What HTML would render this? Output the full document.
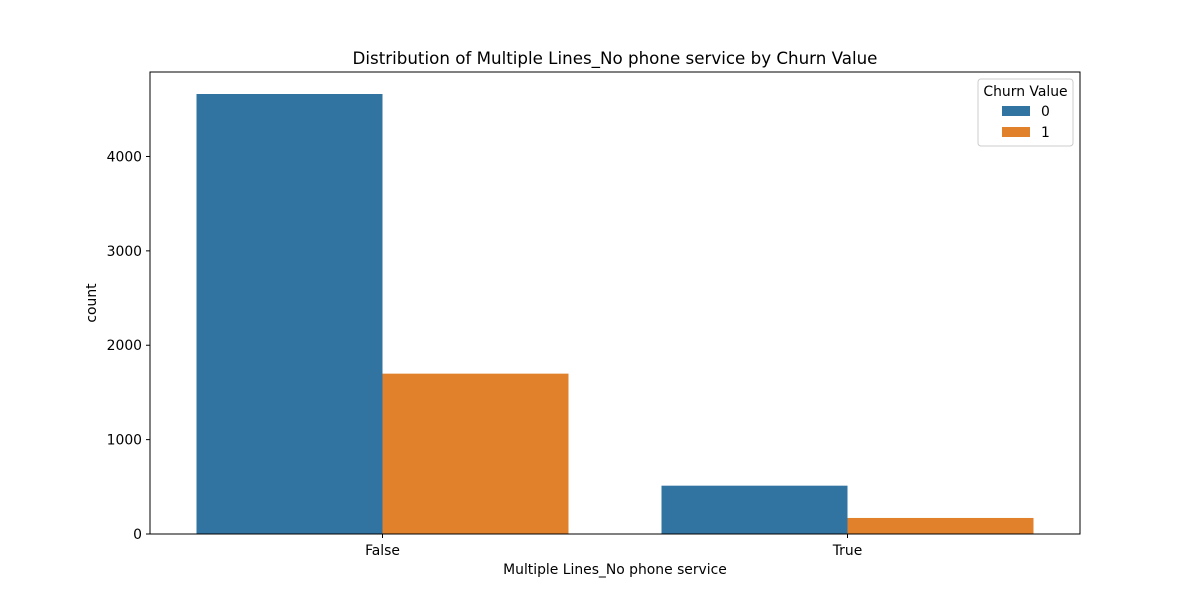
<!DOCTYPE html>
<html><head><meta charset="utf-8"><style>
body{margin:0;background:#fff;}
text{font-family:"DejaVu Sans","Liberation Sans",sans-serif;fill:#000;}
</style></head><body>
<svg id="chart" width="1200" height="600" xmlns="http://www.w3.org/2000/svg"></svg>
<script>
const categories = ["False", "True"];
const seriesNames = ["0", "1"];
const series0 = [4662, 512];
const series1 = [1699, 170];
const yTicks = [0, 1000, 2000, 3000, 4000];
const colors = ["#3274a1", "#e1812c"];

const svg = document.getElementById('chart');
const NS = 'http://www.w3.org/2000/svg';
const L = 150, R = 1080, T = 72, B = 534;
const yMax = Math.max(...series0, ...series1) * 1.05;
const y = v => B - v / yMax * (B - T);
const step = (R - L) / categories.length;
const x = i => L + step * (i + 0.5);
function mk(tag, attrs, parent) { const e = document.createElementNS(NS, tag); for (const k in attrs) e.setAttribute(k, attrs[k]); (parent || svg).appendChild(e); return e; }

const allSeries = [series0, series1];
const bw = step * 0.8 / 2;
allSeries.forEach((s, si) => {
  s.forEach((v, ci) => {
    const r = mk('rect', { x: x(ci) - step * 0.4 + si * bw, y: y(v), width: bw, height: B - y(v), fill: colors[si] });
    
    
  });
});

const frame = mk('rect', { x: L, y: T, width: R - L, height: B - T, fill: 'none', stroke: '#000', 'stroke-width': 1 });



yTicks.forEach(t => {
  mk('line', { x1: L - 4, x2: L, y1: y(t), y2: y(t), stroke: '#000' });
  const tx = mk('text', { x: L - 8, y: y(t) + 5, 'text-anchor': 'end', 'font-size': 13.9 });
  tx.textContent = t;
  
  
});
categories.forEach((c, i) => {
  mk('line', { x1: x(i), x2: x(i), y1: B, y2: B + 4, stroke: '#000' });
  const tx = mk('text', { x: x(i), y: B + 21, 'text-anchor': 'middle', 'font-size': 13.9 });
  tx.textContent = c;
  
  
});
const title = mk('text', { x: 615, y: 64, 'text-anchor': 'middle', 'font-size': 16.7 });
title.textContent = 'Distribution of Multiple Lines_No phone service by Churn Value';


const xt = mk('text', { x: 615, y: 574, 'text-anchor': 'middle', 'font-size': 13.9 });
xt.textContent = 'Multiple Lines_No phone service';


const yt = mk('text', { x: 96, y: 303, 'text-anchor': 'middle', 'font-size': 13.9, transform: 'rotate(-90 96 303)' });
yt.textContent = 'count';



const lg = mk('g', {});


mk('rect', { x: 978, y: 79, width: 95, height: 67, fill: '#fff', stroke: '#ccc', rx: 3 }, lg);
const lt = mk('text', { x: 1025.5, y: 96, 'text-anchor': 'middle', 'font-size': 13.9 }, lg);
lt.textContent = 'Churn Value';
seriesNames.forEach((n, i) => {
  const e = mk('g', {}, lg);
  
  
  mk('rect', { x: 1002, y: 106 + i * 21, width: 28, height: 10, fill: colors[i] }, e);
  const t = mk('text', { x: 1041, y: 116 + i * 21, 'font-size': 13.9 }, e);
  t.textContent = n;
});
</script>
</body></html>
